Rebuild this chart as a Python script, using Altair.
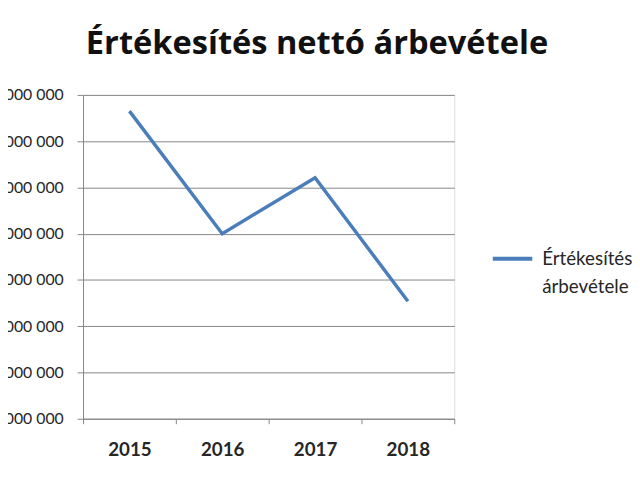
import altair as alt
import pandas as pd

years = ["2015", "2016", "2017", "2018"]
values = [196500000, 170000000, 182100000, 155400000]
series_name = "Értékesítés nettó árbevétele"
y_ticks = [130000000, 140000000, 150000000, 160000000,
           170000000, 180000000, 190000000, 200000000]
title_text = "Értékesítés nettó árbevétele"

df = pd.DataFrame({"year": years, "value": values, "series": [series_name] * len(years)})

FONT = "Lato"
GRID = "#868686"

chart = alt.Chart(df).mark_line(strokeWidth=3.5).encode(
    x=alt.X("year:O", bandPosition=0.5,
            scale=alt.Scale(type="band", paddingInner=0, paddingOuter=0),
            axis=alt.Axis(title=None, tickBand="extent", labelAngle=0, grid=False,
                          domainColor=GRID, tickColor=GRID, tickSize=5,
                          labelFont=FONT, labelFontSize=19, labelFontWeight="bold",
                          labelColor="#262626", labelPadding=17)),
    y=alt.Y("value:Q",
            scale=alt.Scale(domain=[130000000, 200000000], nice=False, zero=False),
            axis=alt.Axis(title=None, values=y_ticks, format=",d", grid=True,
                          gridColor=GRID, domainColor=GRID, tickColor=GRID, tickSize=6,
                          labelFont=FONT, labelFontSize=16, labelColor="#262626",
                          labelPadding=14)),
    color=alt.Color("series:N", scale=alt.Scale(range=["#4A7EBB"]),
                    legend=alt.Legend(title=None, orient="none", legendX=413, legendY=144,
                                      symbolType="stroke", symbolSize=1600, symbolStrokeWidth=4,
                                      labelFont=FONT, labelFontSize=19, labelColor="#262626",
                                      labelLimit=400, labelOffset=8, labelBaseline="middle",
                                      labelExpr="[substring(datum.label, 0, lastindexof(datum.label, ' ')), substring(datum.label, lastindexof(datum.label, ' ') + 1)]")),
).properties(
    width=376, height=328,
    title=alt.TitleParams(title_text, font="Open Sans", fontSize=33, fontWeight="bold",
                          color="#111111", anchor="middle", frame="group", dx=49, offset=0,
                          baseline="alphabetic"),
    autosize=alt.AutoSizeParams(type="none"),
    padding={"left": 76, "top": 85, "right": 180, "bottom": 59},
).configure_view(stroke=None).configure(
    locale={"number": {"decimal": ",", "thousands": " ", "grouping": [3], "currency": ["", " Ft"]}},
    style={"guide-label": {"lineHeight": 29}},
)

chart.save("out.html", embed_options={"renderer": "svg", "actions": False})
